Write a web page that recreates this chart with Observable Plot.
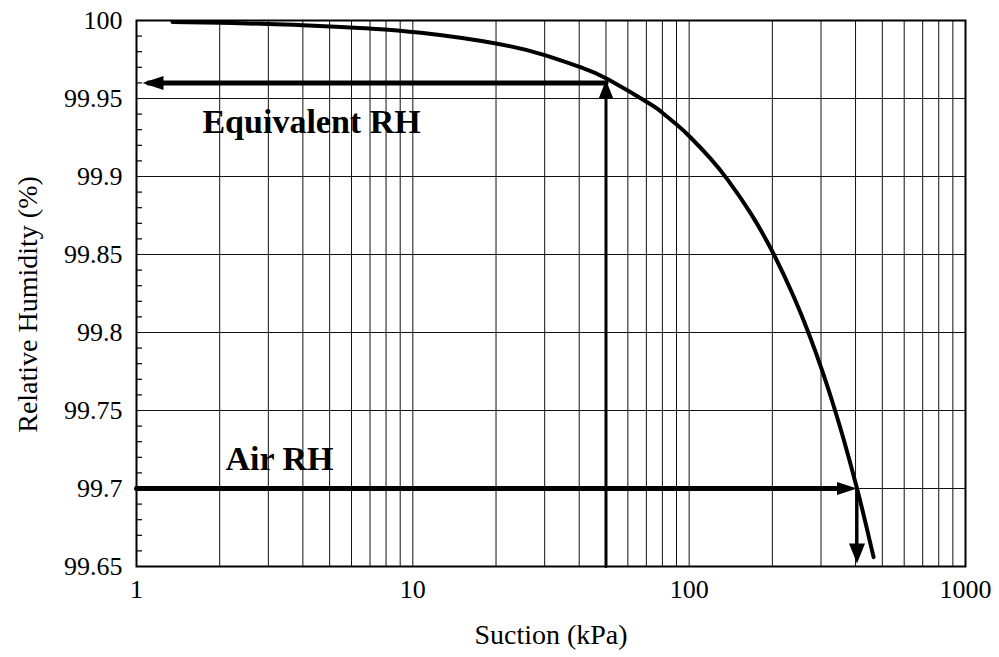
<!DOCTYPE html>
<html><head><meta charset="utf-8">
<script src="https://cdn.jsdelivr.net/npm/d3@7"></script>
<script src="https://cdn.jsdelivr.net/npm/@observablehq/plot@0.6"></script>
<style>html,body{margin:0;padding:0;background:#fff;} svg text{font-family:"Liberation Serif","Times New Roman",serif;}</style>
</head><body><div id="chart"></div>
<script>
// ---- data ----
const suction = [1.35, 2, 3, 4, 5.5, 7, 10.7, 20.2, 30, 40.7, 50.8, 72.5, 81, 90.5, 101.2, 119.5, 137.3, 166.8, 202.6, 239.3, 270, 304, 333, 362, 405, 435, 465];
const relHumidity = [99.9990, 99.9985, 99.9978, 99.9970, 99.9959, 99.9948, 99.9921, 99.9851, 99.9778, 99.9699, 99.9624, 99.9463, 99.9400, 99.9330, 99.9250, 99.9115, 99.8983, 99.8765, 99.8500, 99.8228, 99.8000, 99.7748, 99.7532, 99.7317, 99.7000, 99.6777, 99.6560];

const xDomain = [1, 1000];
const yDomain = [99.65, 100];
const xTicks = [1, 10, 100, 1000];
const xTickLabels = ["1", "10", "100", "1000"];
const xGridLines = [1,2,3,4,5,6,7,8,9,10,20,30,40,50,60,70,80,90,100,200,300,400,500,600,700,800,900,1000];
const yTicks = [99.65, 99.7, 99.75, 99.8, 99.85, 99.9, 99.95, 100];
const yTickLabels = ["99.65", "99.7", "99.75", "99.8", "99.85", "99.9", "99.95", "100"];
const yMinorTicks = [99.66,99.67,99.68,99.69,99.71,99.72,99.73,99.74,99.76,99.77,99.78,99.79,99.81,99.82,99.83,99.84,99.86,99.87,99.88,99.89,99.91,99.92,99.93,99.94,99.96,99.97,99.98,99.99];

const xTitle = "Suction (kPa)";
const yTitle = "Relative Humidity (%)";

const eqSuction = 50, eqRH = 99.96;
const airSuction = 405, airRH = 99.70;

const labels = ["Equivalent RH", "Air RH"];
const labelX = [4.3, 3.29];
const labelY = [99.935, 99.7186];

// ---- arrow segments built from the named values ----
const hSegs = [
  {x1: eqSuction, y1: eqRH, x2: xDomain[0], y2: eqRH},
  {x1: xDomain[0], y1: airRH, x2: airSuction, y2: airRH}
];
const vSegs = [
  {x1: eqSuction, y1: yDomain[0], x2: eqSuction, y2: eqRH},
  {x1: airSuction, y1: airRH, x2: airSuction, y2: yDomain[0]}
];

function head(dir, L, W) {
  const h = W / 2;
  return {draw(ctx) {
    if (dir === "left") { ctx.moveTo(0,0); ctx.lineTo(L,-h); ctx.lineTo(L,h); }
    if (dir === "right") { ctx.moveTo(0,0); ctx.lineTo(-L,-h); ctx.lineTo(-L,h); }
    if (dir === "up") { ctx.moveTo(0,0); ctx.lineTo(-h,L); ctx.lineTo(h,L); }
    if (dir === "down") { ctx.moveTo(0,0); ctx.lineTo(-h,-L); ctx.lineTo(h,-L); }
    ctx.closePath();
  }};
}

const FONT = "Liberation Serif, Times New Roman, serif";
const curveData = suction.map((s, i) => ({s, rh: relHumidity[i]}));
const yLab = new Map(yTicks.map((t, i) => [t, yTickLabels[i]]));
const xLab = new Map(xTicks.map((t, i) => [t, xTickLabels[i]]));

const svg = Plot.plot({
  width: 999,
  height: 657,
  marginLeft: 136,
  marginRight: 34,
  marginTop: 20,
  marginBottom: 91,
  style: {fontFamily: FONT, fontSize: "26px", background: "#fff", color: "#000"},
  x: {type: "log", domain: xDomain},
  y: {domain: yDomain},
  marks: [
    Plot.gridX(xGridLines, {stroke: "#111", strokeOpacity: 1, strokeWidth: 1}),
    Plot.gridY(yTicks, {stroke: "#111", strokeOpacity: 1, strokeWidth: 1}),
    Plot.text(labels, {x: (d, i) => labelX[i], y: (d, i) => labelY[i], text: d => d, fontFamily: FONT,
      fontSize: 34, fontWeight: "bold", textAnchor: "middle", lineAnchor: "middle", fill: "#000", ariaLabel: "annotation"}),
    Plot.axisY(yMinorTicks, {tickSize: -6, tickFormat: () => "", label: null, strokeWidth: 1.2}),
    Plot.axisY(yTicks, {tickSize: 0, tickPadding: 14, tickFormat: d => yLab.get(d), label: null, fontSize: 26, fontFamily: FONT}),
    Plot.axisX(xTicks, {tickSize: 0, tickPadding: 13, tickFormat: d => xLab.get(d), label: null, fontSize: 26, fontFamily: FONT}),
    Plot.line(curveData, {x: "s", y: "rh", stroke: "#000", strokeWidth: 4, curve: "natural"}),
    Plot.arrow(hSegs, {x1: "x1", y1: "y1", x2: "x2", y2: "y2", stroke: "#000", strokeWidth: 5, headLength: 0, insetEnd: 12}),
    Plot.arrow(vSegs, {x1: "x1", y1: "y1", x2: "x2", y2: "y2", stroke: "#000", strokeWidth: 3, headLength: 0, insetEnd: 10}),
    Plot.dot([{x: xDomain[0], y: eqRH}], {x: "x", y: "y", symbol: head("left", 21, 14), fill: "#000", stroke: "none", r: 5, dx: 6}),
    Plot.dot([{x: eqSuction, y: eqRH}], {x: "x", y: "y", symbol: head("up", 19, 15), fill: "#000", stroke: "none", r: 5, dy: -3}),
    Plot.dot([{x: airSuction, y: airRH}], {x: "x", y: "y", symbol: head("right", 20, 13), fill: "#000", stroke: "none", r: 5}),
    Plot.dot([{x: airSuction, y: yDomain[0]}], {x: "x", y: "y", symbol: head("down", 20, 16), fill: "#000", stroke: "none", r: 5, dy: -3}),
    Plot.frame({stroke: "#000", strokeWidth: 2}),
    Plot.text([xTitle], {text: d => d, frameAnchor: "bottom", dy: 69, lineAnchor: "middle", textAnchor: "middle", fontSize: 28, fontFamily: FONT, fill: "#000"}),
    Plot.text([yTitle], {text: d => d, frameAnchor: "left", dx: -108, dy: 11, rotate: -90, lineAnchor: "middle", textAnchor: "middle", fontSize: 28, fontFamily: FONT, fill: "#000"})
  ]
});
document.getElementById("chart").append(svg);

// white boxes behind the annotation labels (hide the grid, as in the reference)
d3.select(svg).selectAll('g[aria-label="annotation"] text').each(function() {
  const b = this.getBBox();
  const padX = 8, padY = 9;
  const rect = document.createElementNS("http://www.w3.org/2000/svg", "rect");
  rect.setAttribute("x", b.x - padX);
  rect.setAttribute("y", b.y - padY);
  rect.setAttribute("width", b.width + 2 * padX);
  rect.setAttribute("height", b.height + 2 * padY);
  rect.setAttribute("fill", "#fff");
  const t = this.getAttribute("transform");
  if (t) rect.setAttribute("transform", t);
  this.parentNode.insertBefore(rect, this);
});
</script>
</body></html>
